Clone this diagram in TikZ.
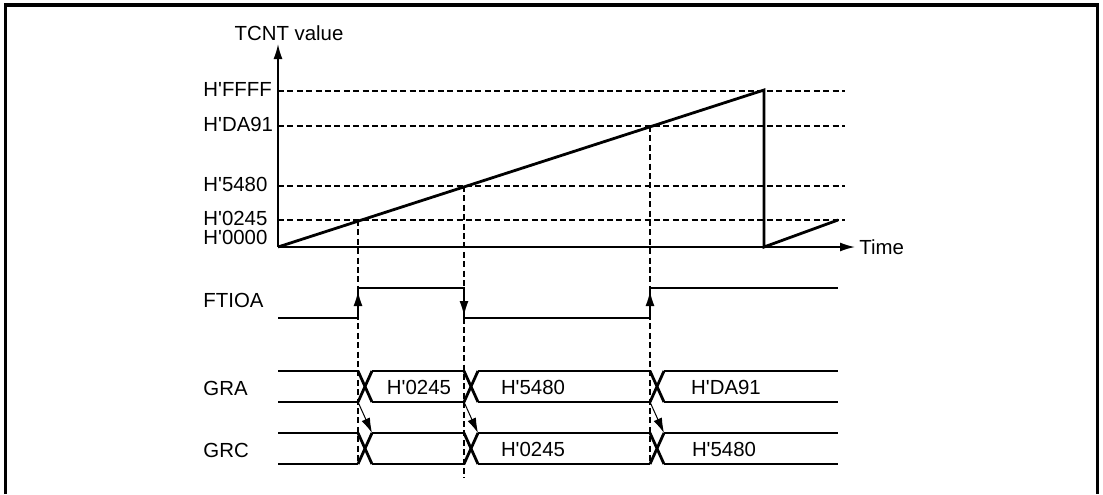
\documentclass[tikz,border=0pt]{standalone}
\usepackage{fontspec}
\setmainfont{Liberation Sans}[Ligatures=TeXOff]
\usetikzlibrary{arrows.meta}

\begin{document}
\begin{tikzpicture}[
    x=0.5pt, y=-0.5pt,
    >={Latex[length=7.5pt,width=4.5pt]}, % Set default arrow tip style
    wave/.style={line width=1.4pt}, % Style for signal waveforms
    guide/.style={line width=0.6pt, dash pattern=on 3pt off 1.7pt}, % Dashed guide lines
    lbl/.style={font=\fontsize{10.2}{12}\selectfont, inner sep=0pt}
]
\useasboundingbox (0,0) rectangle (1103,494);

% Frame
\draw[line width=1.6pt] (5.5,494) -- (5.5,5) -- (1097.5,5) -- (1097.5,494);

% Axes
\draw[->, line width=0.8pt] (278,247) -- (278,44);
\node[lbl] (ylabel) at (289,33) {TCNT value};
\draw[->, line width=0.8pt] (278,247) -- (855,247);
\node[lbl, anchor=west] (xlabel) at (859,247) {Time};

% Compare levels
\foreach \y/\val in {91/FFFF, 126/DA91, 186/5480, 220/0245} {
    \draw[guide] (278,\y) -- (845,\y);
    \node[lbl, anchor=west] (v\val) at (203,\y-2) {H'\val};
}
\node[lbl, anchor=west] (v0000) at (203,237) {H'0000};

% Counter ramp
\draw[wave] (278,247) -- (764,90) -- (764,247) -- (838,220);

% Compare match guides
\draw[guide] (358,220) -- (358,464);
\draw[guide] (464,186) -- (464,478);
\draw[guide] (650,126) -- (650,463);

% FTIOA output
\node[lbl, anchor=west] (ftioa) at (203,300) {FTIOA};
\draw[wave] (278,318) -- (358,318) -- (358,288) -- (464,288) -- (464,318)
    -- (650,318) -- (650,288) -- (838,288);
\draw[->, line width=0.8pt] (358,318) -- (358,291);
\draw[->, line width=0.8pt] (464,288) -- (464,316);
\draw[->, line width=0.8pt] (650,318) -- (650,291);

% Register buses
\foreach \name/\top in {GRA/371, GRC/433} {
    \node[lbl, anchor=west] (\name) at (203,\top+17) {\name};
    \foreach \a/\b in {278/358, 372/464, 478/650, 664/838}
        \draw[wave] (\a,\top) -- (\b,\top) (\a,\top+31) -- (\b,\top+31);
    \foreach \c in {358,464,650}
        \draw[wave] (\c,\top) -- (\c+14,\top+31) (\c,\top+31) -- (\c+14,\top);
}
\node[lbl] (gra1) at (419,387) {H'0245};
\node[lbl] (gra2) at (533,387) {H'5480};
\node[lbl] (gra3) at (726,387) {H'DA91};
\node[lbl] (grc2) at (533,449) {H'0245};
\node[lbl] (grc3) at (724,449) {H'5480};

% Transfer GRA -> GRC
\foreach \c in {358,464,650} {
    \coordinate (ga\c) at (\c,402);
    \coordinate (gc\c) at (\c+14,433);
    \draw[->, line width=0.5pt] (ga\c) -- (gc\c);
}

\end{tikzpicture}
\end{document}
